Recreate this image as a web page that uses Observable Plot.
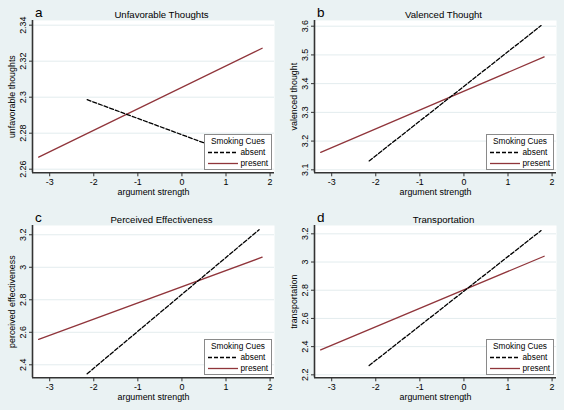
<!DOCTYPE html>
<html><head><meta charset="utf-8">
<script src="https://cdn.jsdelivr.net/npm/d3@7"></script>
<script src="https://cdn.jsdelivr.net/npm/@observablehq/plot@0.6"></script>
<style>
body{margin:0;background:#eaf2f3;}
#grid{display:grid;grid-template-columns:282px 282px;grid-template-rows:205px 205px;width:564px;height:410px;}
.panel{position:relative;width:282px;height:205px;overflow:hidden;}
.panel svg{display:block;}
.legend{position:absolute;left:0;top:0;pointer-events:none;}
</style></head><body><div id="grid"></div>
<script>
const FONT = '"Liberation Sans", Arial, sans-serif';
const panelLetters = ["a", "b", "c", "d"];
const panelTitles = ["Unfavorable Thoughts", "Valenced Thought", "Perceived Effectiveness", "Transportation"];
const yLabels = ["unfavorable thoughts", "valenced thought", "perceived effectiveness", "transportation"];
const xLabel = "argument strength";
const legendTitle = "Smoking Cues";
const groups = ["absent", "present"];

const xTicks = [-3, -2, -1, 0, 1, 2];
const xDomain = [-3.39, 2.1];
const absentX = [-2.15, 1.75];
const presentX = [-3.25, 1.82];

const yTicksA = [2.26, 2.28, 2.3, 2.32, 2.34];
const yTicksB = [3.1, 3.2, 3.3, 3.4, 3.5, 3.6];
const yTicksC = [2.4, 2.6, 2.8, 3, 3.2];
const yTicksD = [2.2, 2.4, 2.6, 2.8, 3, 3.2];

const yDomainA = [2.258, 2.3426];
const yDomainB = [3.0896, 3.6198];
const yDomainC = [2.32, 3.257];
const yDomainD = [2.179, 3.259];

const absentA = [2.2986, 2.2633];
const presentA = [2.2667, 2.3272];
const absentB = [3.131, 3.602];
const presentB = [3.161, 3.493];
const absentC = [2.345, 3.231];
const presentC = [2.556, 3.062];
const absentD = [2.266, 3.223];
const presentD = [2.377, 3.041];

const panels = [
  {ticks: yTicksA, domain: yDomainA, absent: absentA, present: presentA},
  {ticks: yTicksB, domain: yDomainB, absent: absentB, present: presentB},
  {ticks: yTicksC, domain: yDomainC, absent: absentC, present: presentC},
  {ticks: yTicksD, domain: yDomainD, absent: absentD, present: presentD}
];

const PRESENT = "#90353b";
const grid = document.getElementById("grid");

panels.forEach((p, i) => {
  const absentRows = absentX.map((x, j) => ({x, y: p.absent[j]}));
  const presentRows = presentX.map((x, j) => ({x, y: p.present[j]}));
  const chart = Plot.plot({
    width: 282, height: 205,
    marginLeft: 32, marginRight: 8, marginTop: 20, marginBottom: 32.7,
    style: {background: "transparent", fontFamily: FONT, fontSize: "8.9px", color: "#000"},
    x: {domain: xDomain},
    y: {domain: p.domain},
    marks: [
      Plot.frame({fill: "white", stroke: null}),
      Plot.gridY(p.ticks, {stroke: "#e3ecee", strokeOpacity: 1, strokeWidth: 1}),
      Plot.line(presentRows, {x: "x", y: "y", stroke: PRESENT, strokeWidth: 1.3}),
      Plot.line(absentRows, {x: "x", y: "y", stroke: "#000", strokeWidth: 1.3, strokeDasharray: "4,2"}),
      Plot.ruleX([xDomain[0]], {stroke: "#333", strokeWidth: 1.6}),
      Plot.ruleY([p.domain[0]], {stroke: "#333", strokeWidth: 1.6}),
      Plot.axisX(xTicks, {tickFormat: d => String(d), tickSize: 4, tickPadding: 2, stroke: "#333",
        label: xLabel, labelAnchor: "center", labelOffset: 22, labelArrow: "none"}),
      Plot.axisY(p.ticks, {tickFormat: d => String(d), tickSize: 3, tickRotate: -90, tickPadding: 4, stroke: "#333",
        label: yLabels[i], labelAnchor: "center", labelOffset: 24, labelArrow: "none"}),
      Plot.text([panelTitles[i]], {frameAnchor: "top", dx: 8, dy: -6, lineAnchor: "middle", fontSize: 9.6}),
      Plot.text([panelLetters[i]], {frameAnchor: "top-left", textAnchor: "start", dx: 2.5, dy: -8, lineAnchor: "middle", fontSize: 13.5})
    ]
  });
  const div = document.createElement("div");
  div.className = "panel";
  div.appendChild(chart);
  const lg = `<svg class="legend" width="282" height="205" xmlns="http://www.w3.org/2000/svg" font-family='${FONT}' font-size="8.3">
    <rect x="204.5" y="134.5" width="67" height="35" fill="white" stroke="#8a8a8a" stroke-width="1"/>
    <text x="238" y="144.2" text-anchor="middle">${legendTitle}</text>
    <line x1="208" x2="238" y1="152.5" y2="152.5" stroke="#000" stroke-width="1.3" stroke-dasharray="4,2"/>
    <text x="240.5" y="155.3">${groups[0]}</text>
    <line x1="208" x2="238" y1="163.5" y2="163.5" stroke="${PRESENT}" stroke-width="1.3"/>
    <text x="240.5" y="166.3">${groups[1]}</text>
  </svg>`;
  div.insertAdjacentHTML("beforeend", lg);
  grid.appendChild(div);
});
</script></body></html>
